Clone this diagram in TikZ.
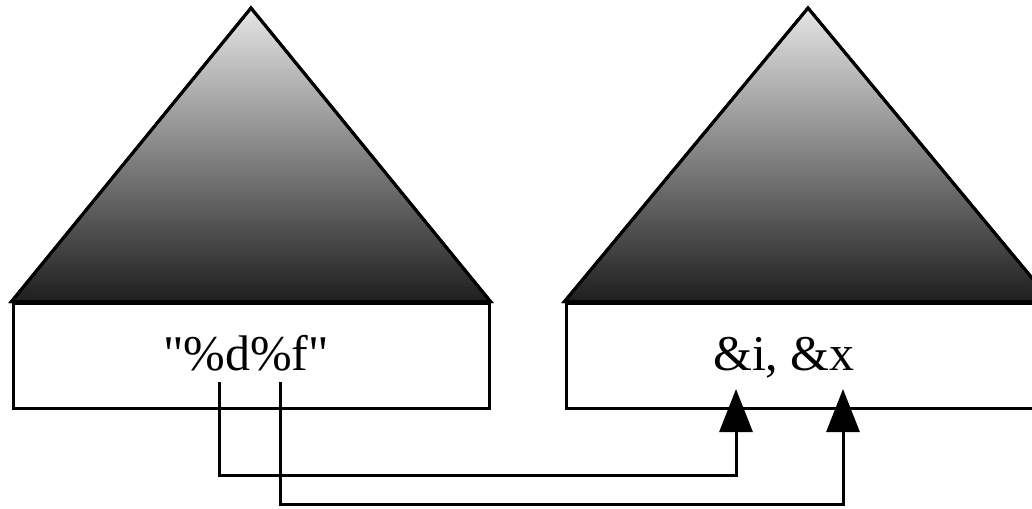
\documentclass[tikz,border=0pt]{standalone}
\usepackage{fontspec}
\setmainfont{Liberation Serif}[Ligatures=TeXOff]
\usetikzlibrary{arrows.meta}
\tikzset{
  box/.style={draw=black, line width=3pt, fill=white, inner sep=0pt},
  tri/.style={draw=black, line width=3pt, line join=miter, top color=black!10, bottom color=black!88},
  label/.style={anchor=base, inner sep=0pt, font=\fontsize{50}{60}\selectfont},
  conn/.style={draw=black, line width=3pt, -{Triangle[length=43pt,width=33pt]}},
}
\begin{document}
\begin{tikzpicture}[x=1pt,y=-1pt]
\useasboundingbox (0,0) rectangle (1032,508);
\clip (0,0) rectangle (1032,508);
% left
\coordinate (lapex) at (251,8);
\node[box, minimum width=476pt, minimum height=105pt] (lbox) at (251,355.5) {};
\shade[tri] (lbox.north west) -- (lapex) -- (lbox.north east) -- cycle;
\draw[line width=3pt] (lbox.north west) -- (lapex) -- (lbox.north east) -- cycle;
\node[label] (fmt) at (246,370) {"\%d\%f"};
% right
\coordinate (rapex) at (808,8);
\node[box, minimum width=484pt, minimum height=105pt] (rbox) at (808,355.5) {};
\shade[tri] (rbox.north west) -- (rapex) -- (rbox.north east) -- cycle;
\draw[line width=3pt] (rbox.north west) -- (rapex) -- (rbox.north east) -- cycle;
\node[label] (args) at (784,370) {\&i, \&x};
% connectors
\coordinate (s1) at (219,382);
\coordinate (s2) at (280,382);
\coordinate (t1) at (736,389);
\coordinate (t2) at (843,389);
\coordinate (b1) at (736,475);
\coordinate (b2) at (843,504);
\draw[conn] (s1) |- (b1) -- (t1);
\draw[conn] (s2) |- (b2) -- (t2);
\end{tikzpicture}
\end{document}
